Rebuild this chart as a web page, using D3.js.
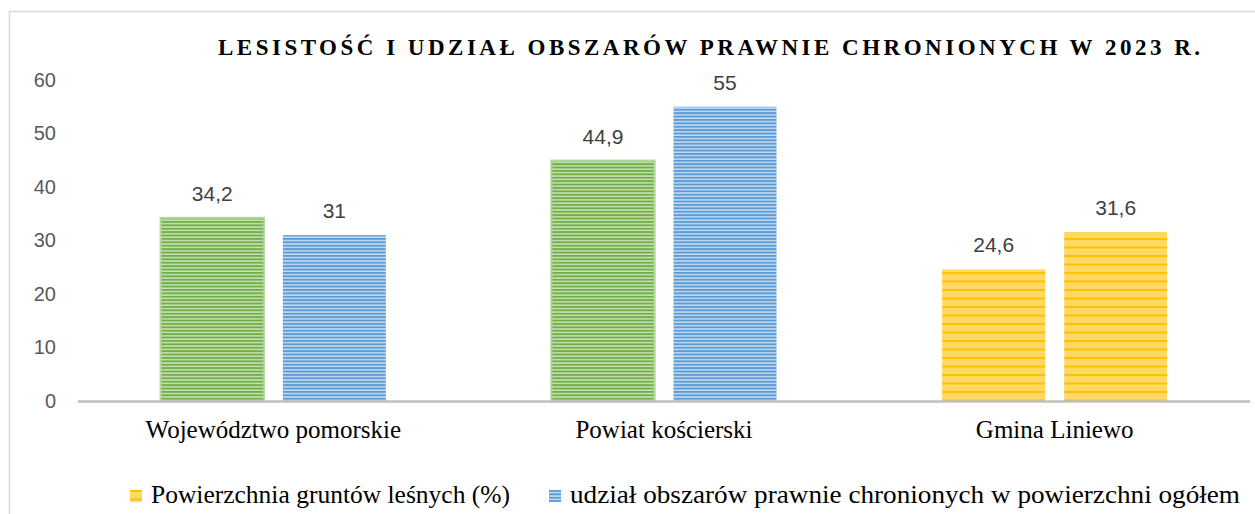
<!DOCTYPE html>
<html>
<head>
<meta charset="utf-8">
<script src="https://cdn.jsdelivr.net/npm/d3@7"></script>
<style>
  body { margin: 0; background: #fff; }
  svg { display: block; }
</style>
</head>
<body>
<div id="chart"></div>
<script>
// data
var categories = ["Województwo pomorskie", "Powiat kościerski", "Gmina Liniewo"];
var seriesNames = ["Powierzchnia gruntów leśnych (%)", "udział obszarów prawnie chronionych w powierzchni ogółem"];
var forestShare = [34.2, 44.9, 24.6];
var protectedShare = [31, 55, 31.6];
var yTicks = [0, 10, 20, 30, 40, 50, 60];
var chartTitle = "LESISTOŚĆ I UDZIAŁ OBSZARÓW PRAWNIE CHRONIONYCH W 2023 R.";

var svgWidth = 1255;
var svgHeight = 514;
var margin = { top: 80, right: 5, bottom: 113, left: 78 };

var svg = d3.select("#chart")
    .append("svg")
    .attr("width", svgWidth)
    .attr("height", svgHeight);

// fill patterns (striped like the original)
var defs = svg.append("defs");
function stripes(id, base, line, period, lineH) {
    var p = defs.append("pattern")
        .attr("id", id)
        .attr("patternUnits", "userSpaceOnUse")
        .attr("width", 20)
        .attr("height", period);
    p.append("rect").attr("width", 20).attr("height", period).attr("fill", base);
    p.append("rect").attr("y", 0).attr("width", 20).attr("height", lineH).attr("fill", line);
}
stripes("green", "#c9e3b8", "#70ad47", 3.4, 1.9);
stripes("blue", "#c5dbf0", "#5b9bd5", 3.4, 1.9);
stripes("yellow", "#ffd966", "#ffc000", 8.5, 2);

// colour of each bar, [category][series]
var barFill = [["green", "blue"], ["green", "blue"], ["yellow", "yellow"]];
var legendFill = ["yellow", "blue"];

// outer chart frame
svg.append("rect")
    .attr("x", 9.5).attr("y", 11.5)
    .attr("width", 1400).attr("height", 700)
    .attr("fill", "none")
    .attr("stroke", "#d9d9d9")
    .attr("stroke-width", 1.5);

// scales
var x0 = d3.scaleBand()
    .domain(categories)
    .range([margin.left, svgWidth - margin.right])
    .paddingInner(0.424)
    .paddingOuter(0.212);

var x1 = d3.scaleBand()
    .domain([0, 1])
    .range([0, x0.bandwidth()])
    .paddingInner(0.156);

var y = d3.scaleLinear()
    .domain([0, 60])
    .range([svgHeight - margin.bottom, margin.top]);

var rows = categories.map(function (c, i) {
    return { cat: c, i: i, values: [forestShare[i], protectedShare[i]] };
});

// y axis labels only
var leftAxis = d3.axisLeft(y).tickValues(yTicks).tickSize(0).tickPadding(0);
var yAxis = svg.append("g")
    .attr("transform", "translate(56,0)")
    .call(leftAxis);
yAxis.select(".domain").remove();
yAxis.selectAll("text")
    .attr("font-family", "Liberation Sans, Arial, sans-serif")
    .attr("font-size", 20)
    .attr("fill", "#595959");

// bars
var groups = svg.selectAll("g.cat")
    .data(rows)
    .enter()
    .append("g")
    .attr("class", "cat")
    .attr("transform", function (d) { return "translate(" + x0(d.cat) + ",0)"; });

groups.selectAll("rect")
    .data(function (d) { return d.values.map(function (v, s) { return { v: v, s: s, i: d.i }; }); })
    .enter()
    .append("rect")
    .attr("x", function (d) { return x1(d.s); })
    .attr("y", function (d) { return y(d.v); })
    .attr("width", x1.bandwidth())
    .attr("height", function (d) { return y(0) - y(d.v); })
    .attr("fill", function (d) { return "url(#" + barFill[d.i][d.s] + ")"; })
    .attr("stroke", function (d) { return barFill[d.i][d.s] == "green" ? "#a9d18e" : "none"; })
    .attr("stroke-width", 2.5)
    .attr("stroke-opacity", 0.8);

// value labels
groups.selectAll("text.val")
    .data(function (d) { return d.values.map(function (v, s) { return { v: v, s: s }; }); })
    .enter()
    .append("text")
    .attr("class", "val")
    .attr("x", function (d) { return x1(d.s) + x1.bandwidth() / 2; })
    .attr("y", function (d) { return y(d.v) - 17; })
    .attr("text-anchor", "middle")
    .attr("font-family", "Liberation Sans, Arial, sans-serif")
    .attr("font-size", 21)
    .attr("fill", "#404040")
    .text(function (d) { return String(d.v).replace(".", ","); });

// baseline
svg.append("line")
    .attr("x1", margin.left).attr("x2", svgWidth - margin.right)
    .attr("y1", y(0) + 0.5).attr("y2", y(0) + 0.5)
    .attr("stroke", "#bfbfbf")
    .attr("stroke-width", 2.5);

// category labels
var bottomAxis = d3.axisBottom(x0).tickSize(0).tickPadding(0);
var xAxis = svg.append("g")
    .attr("transform", "translate(0,438)")
    .call(bottomAxis);
xAxis.select(".domain").remove();
xAxis.selectAll("text")
    .attr("y", 0)
    .attr("dy", 0)
    .attr("font-family", "Liberation Serif, serif")
    .attr("font-size", 25)
    .attr("fill", "#000");

// title
svg.append("text")
    .attr("x", 218)
    .attr("y", 55)
    .attr("textLength", 982)
    .attr("lengthAdjust", "spacing")
    .attr("font-family", "Liberation Serif, serif")
    .attr("font-weight", "bold")
    .attr("font-size", 23)
    .attr("fill", "#000")
    .text(chartTitle);

// legend
var legendX = [130, 549];
var legendW = [359, 670];
var legend = svg.selectAll("g.legend")
    .data(seriesNames)
    .enter()
    .append("g")
    .attr("class", "legend")
    .attr("transform", function (d, i) { return "translate(" + legendX[i] + ",490)"; });

legend.append("rect")
    .attr("width", 12).attr("height", 12)
    .attr("fill", function (d, i) { return "url(#" + legendFill[i] + ")"; });

legend.append("text")
    .attr("x", 21)
    .attr("y", 13)
    .attr("textLength", function (d, i) { return legendW[i]; })
    .attr("lengthAdjust", "spacingAndGlyphs")
    .attr("font-family", "Liberation Serif, serif")
    .attr("font-size", 25)
    .attr("fill", "#000")
    .text(function (d) { return d; });
</script>
</body>
</html>
